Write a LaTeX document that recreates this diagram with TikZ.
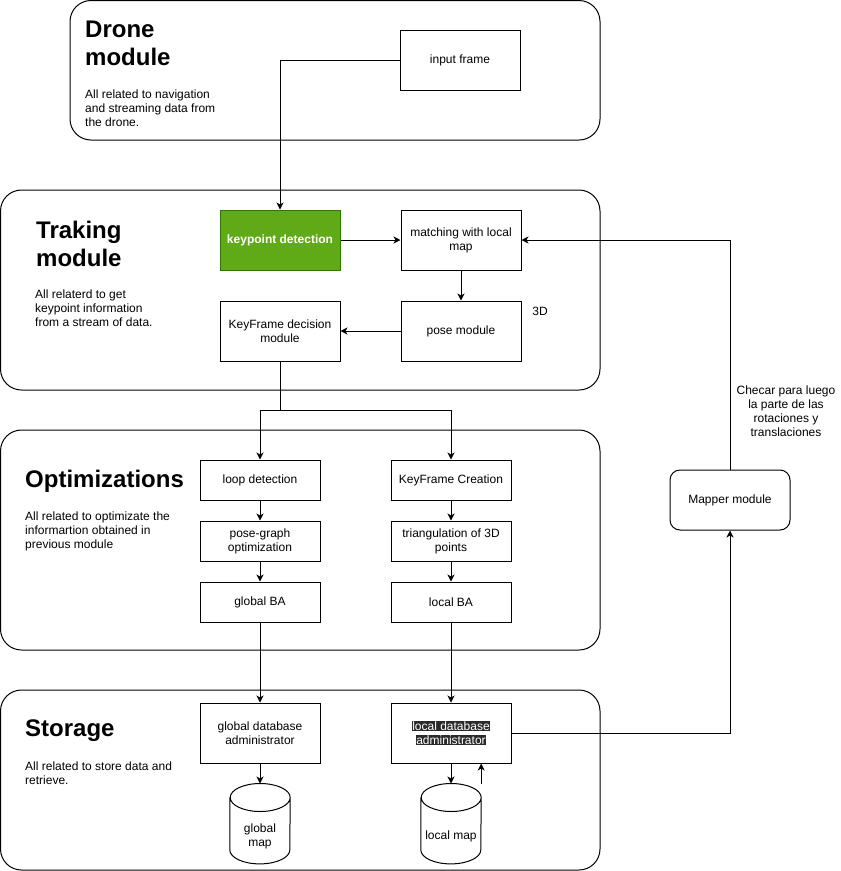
\documentclass[tikz,border=0pt]{standalone}
\usepackage{fontspec}
\setmainfont{Liberation Sans}
\usetikzlibrary{arrows.meta,positioning}
\definecolor{kpgreen}{HTML}{60A917}
\definecolor{kpedge}{HTML}{2D7600}
\definecolor{hlbg}{HTML}{2A2A2A}
\newcommand{\darkhl}[1]{{\setlength{\fboxsep}{0.6pt}\colorbox{hlbg}{\textcolor{white}{#1}}}}
\newcommand{\drawdrum}[1]{%
  \draw[line width=1pt] ([yshift=-14pt]#1.north west) -- ([yshift=14pt]#1.south west)
    arc[start angle=180,end angle=360,x radius=30pt,y radius=14pt]
    -- ([yshift=-14pt]#1.north east)
    arc[start angle=0,end angle=180,x radius=30pt,y radius=14pt]
    arc[start angle=180,end angle=360,x radius=30pt,y radius=14pt];}
\tikzset{
  module/.style={draw=black,line width=1pt,rounded corners=21pt},
  box/.style={draw=black,line width=1pt,minimum width=120pt,minimum height=60pt,
    inner sep=2pt,align=center,font=\fontsize{12}{14}\selectfont},
  sbox/.style={box,minimum height=40pt},
  boxg/.style={box,draw=kpedge,fill=kpgreen,text=white,font=\fontsize{12}{14}\selectfont\bfseries},
  boxr/.style={box,rounded corners=10pt},
  drum/.style={minimum width=60pt,minimum height=80pt,inner sep=0pt},
  title/.style={anchor=north west,inner sep=0pt,align=left,font=\fontsize{24}{28}\selectfont\bfseries},
  blurb/.style={anchor=north west,inner sep=0pt,align=left,font=\fontsize{12}{14}\selectfont},
  plain/.style={inner sep=0pt,align=center,font=\fontsize{12}{14}\selectfont},
  flow/.style={-{Stealth[length=7pt,width=7pt,inset=2pt]},line width=1pt},
}
\begin{document}
\begin{tikzpicture}[x=1pt,y=-1pt,node distance=20pt]
  \useasboundingbox (0,0) rectangle (841,871);
  % module frames
  \draw[module] (70,0.5) rectangle (600,140);
  \draw[module] (0.5,190) rectangle (600,390);
  \draw[module] (0.5,430) rectangle (600,650);
  \draw[module] (0.5,690) rectangle (600,870);

  \node[title] (dronet) at (85,21) {Drone\\module};
  \node[blurb] (droned) at (85,90) {All related to navigation\\and streaming data from\\the drone.};
  \node[title] (trackt) at (36,221) {Traking\\module};
  \node[blurb] (trackd) at (35,290) {All relaterd to get\\keypoint information\\from a stream of data.};
  \node[title] (optt) at (25,470) {Optimizations};
  \node[blurb] (optd) at (25,512) {All related to optimizate the\\informartion obtained in\\previous module};
  \node[title] (storet) at (25,720) {Storage};
  \node[blurb] (stored) at (25,762) {All related to store data and\\retrieve.};

  \node[box] (frame) at (460,60) {input frame};
  \node[boxg] (kpd) at (280,240) {keypoint detection};
  \node[box,right=60pt of kpd] (match) {matching with local\\map};
  \node[box,below=30pt of match] (pose) {pose module};
  \node[box,left=60pt of pose] (kfd) {KeyFrame decision\\module};
  \node[plain] (dim) at (540,311) {3D};

  \node[sbox] (loop) at (260,480) {loop detection};
  \node[sbox,below=of loop] (pgo) {pose-graph\\optimization};
  \node[sbox,below=of pgo] (gba) {global BA};
  \node[sbox,right=70pt of loop] (kfc) {KeyFrame Creation};
  \node[sbox,below=of kfc] (tri) {triangulation of 3D\\points};
  \node[sbox,below=of tri] (lba) {local BA};

  \node[box,below=80pt of gba] (gdb) {global database\\administrator};
  \node[box,below=80pt of lba] (ldb) {\darkhl{local database}\\\darkhl{administrator}};
  \node[drum,below=of gdb] (gmap) {};
  \node[drum,below=of ldb] (lmap) {};
  \drawdrum{gmap}
  \drawdrum{lmap}
  \node[plain] (gmapt) at ([yshift=-13pt]gmap.center) {global\\map};
  \node[plain] (lmapt) at ([yshift=-13pt]lmap.center) {local map};

  \node[boxr] (mapper) at (730,500) {Mapper module};
  \node[plain] (note) at (786,411) {Checar para luego\\la parte de las\\rotaciones y\\translaciones};

  % connectors
  \coordinate (fork) at (280,410);
  \draw[flow] (frame.west) -| (kpd.north);
  \draw[flow] (kfd.south) -- (fork) -| (loop.north);
  \draw[flow] (fork) -| (kfc.north);
  \foreach \a/\b in {kpd/match,match/pose,pose/kfd,loop/pgo,pgo/gba,kfc/tri,tri/lba,
    gba/gdb,lba/ldb,gdb/gmap,ldb/lmap} \draw[flow] (\a) -- (\b);
  \draw[flow] (lmap.north east) -- (lmap.north east |- ldb.south);
  \draw[flow] (ldb.east) -| (mapper.south);
  \draw[flow] (mapper.north) |- (match.east);
\end{tikzpicture}
\end{document}
